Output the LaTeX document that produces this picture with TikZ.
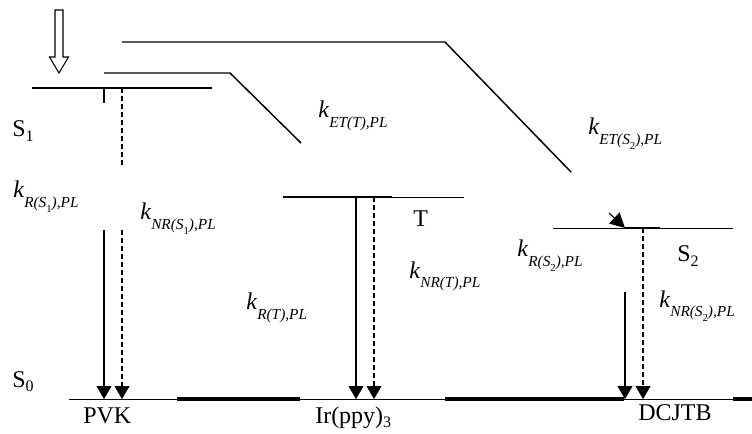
\documentclass[tikz,border=0pt]{standalone}
\usepackage{fontspec}
\setmainfont{Liberation Serif}
\usetikzlibrary{arrows.meta}

% rate constant k with a lowered italic subscript
\newcommand\krate[1]{\textit{k}\raisebox{-0.4em}{\fontsize{11.5}{11.5}\selectfont\itshape #1}}
% inner index of the subscript, e.g. S_1
\newcommand\kidx[2]{#1\raisebox{-0.3em}{\fontsize{8}{8}\selectfont\upshape #2}}
% plain index for state labels
\newcommand\sidx[1]{\raisebox{-0.2em}{\fontsize{12}{12}\selectfont #1}}

\begin{document}
\begin{tikzpicture}[x=0.75pt,y=-0.75pt,
  level/.style={line width=1.4pt},
  thinlevel/.style={line width=0.6pt},
  ground/.style={line width=2.4pt},
  trans/.style={line width=1.1pt},
  decay/.style={line width=0.8pt,-{Triangle[width=11.25pt,length=9.75pt]}},
  nrdecay/.style={decay,dash pattern=on 3.75pt off 2.25pt},
  lbl/.style={anchor=base west,inner sep=0pt,font=\fontsize{18}{18}\selectfont},
  klbl/.style={anchor=base west,inner sep=0pt,font=\fontsize{18}{18}\selectfont}]
\useasboundingbox (0,0) rectangle (752,434);

% excitation arrow (open)
\draw[line width=0.8pt] (55,10) -- (63,10) -- (63,57) -- (68.5,57) -- (59,73)
  -- (49.5,57) -- (55,57) -- cycle;

% ---- energy levels ----
\coordinate (s1a) at (32,88);   \coordinate (s1b) at (212,88);
\coordinate (ta)  at (283,197); \coordinate (tb)  at (464,197);
\coordinate (tc)  at (392,197);
\coordinate (s2a) at (553,228); \coordinate (s2b) at (733,228);
\coordinate (g0a) at (69,399);  \coordinate (g0b) at (752,399);

\draw[level] (s1a) -- (s1b);
\draw[thinlevel] (ta) -- (tb);
\draw[level] (ta) -- (tc);
\draw[thinlevel] (s2a) -- (s2b);
\draw[level] (625,228) -- (660,228);

% ground state: thin under each material, thick in between
\draw[thinlevel] (g0a) -- (g0b);
\draw[ground] (177,399) -- (300,399);
\draw[ground] (445,399) -- (624,399);
\draw[ground] (733,399) -- (752,399);

% ---- energy-transfer paths ----
\coordinate (et1a) at (104,73); \coordinate (et1b) at (230,73); \coordinate (et1c) at (301,143);
\draw[trans] (et1a) -- (et1b) -- (et1c);
\coordinate (et2a) at (122,42); \coordinate (et2b) at (445,42); \coordinate (et2c) at (571,172);
\draw[trans] (et2a) -- (et2b) -- (et2c);
\coordinate (et2d) at (609,213); \coordinate (et2e) at (625,228);
\draw[line width=0.9pt,-{Triangle[width=11.25pt,length=11pt]}] (et2d) -- (et2e);

% ---- PVK decays ----
\coordinate (p1) at (104,88);  \coordinate (p1t) at (104,103);
\coordinate (p2) at (122,88);  \coordinate (p2t) at (122,165);
\draw[line width=0.8pt] (p1) -- (p1t);
\draw[line width=0.8pt,dash pattern=on 3.75pt off 2.25pt] (p2) -- (p2t);
\coordinate (p3) at (104,230); \coordinate (p3g) at (104,399);
\coordinate (p4) at (122,230); \coordinate (p4g) at (122,399);
\draw[decay] (p3) -- (p3g);
\draw[nrdecay] (p4) -- (p4g);

% ---- Ir(ppy)3 decays ----
\coordinate (t1) at (356,197); \coordinate (t1g) at (356,399);
\coordinate (t2) at (374,197); \coordinate (t2g) at (374,399);
\draw[decay] (t1) -- (t1g);
\draw[nrdecay] (t2) -- (t2g);

% ---- DCJTB decays ----
\coordinate (d1) at (625,292); \coordinate (d1g) at (625,399);
\coordinate (d2) at (643,228); \coordinate (d2g) at (643,399);
\draw[decay] (d1) -- (d1g);
\draw[nrdecay] (d2) -- (d2g);

% ---- state labels ----
\node[lbl] (ls1) at (12,137) {S\sidx{1}};
\node[lbl] (ls0) at (12,387) {S\sidx{0}};
\node[lbl] (lt)  at (413,227) {T};
\node[lbl] (ls2) at (677,262) {S\sidx{2}};

\node[lbl] (pvk) at (83,423) {PVK};
\node[lbl] (irp) at (315,423) {Ir(ppy)\sidx{3}};
\node[lbl] (dcj) at (638,420) {DCJTB};

% ---- rate constants ----
\node[klbl] (kets2) at (588,135) {\krate{ET(\kidx{S}{2}),PL}};
\node[klbl] (kett)  at (318,118) {\krate{ET(T),PL}};
\node[klbl] (krs1)  at (13,198)  {\krate{R(\kidx{S}{1}),PL}};
\node[klbl] (knrs1) at (140,220) {\krate{NR(\kidx{S}{1}),PL}};
\node[klbl] (knrt)  at (409,278) {\krate{NR(T),PL}};
\node[klbl] (krt)   at (246,310) {\krate{R(T),PL}};
\node[klbl] (krs2)  at (517,257) {\krate{R(\kidx{S}{2}),PL}};
\node[klbl] (knrs2) at (659,307) {\krate{NR(\kidx{S}{2}),PL}};
\end{tikzpicture}
\end{document}
